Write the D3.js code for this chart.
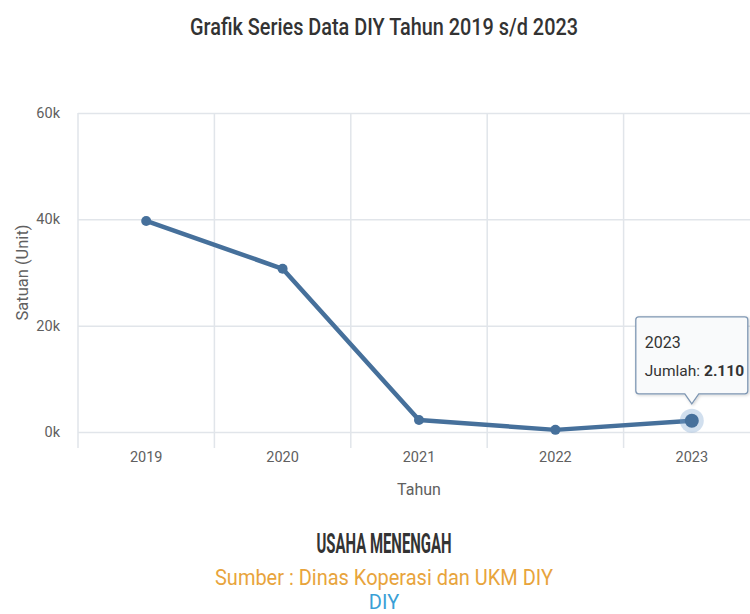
<!DOCTYPE html>
<html>
<head>
<meta charset="utf-8">
<script src="https://cdn.jsdelivr.net/npm/d3@7"></script>
<style>
  html, body { margin: 0; padding: 0; background: #fff; }
  svg { display: block; font-family: Roboto, "Liberation Sans", Arial, sans-serif; }
</style>
</head>
<body>
<svg id="chart" width="750" height="614"></svg>
<script>
// Jumlah usaha menengah di DIY per tahun
const years = ["2019", "2020", "2021", "2022", "2023"];
const jumlah = [39700, 30700, 2250, 400, 2110];
const yTicks = [0, 20000, 40000, 60000];
const yTickLabels = ["0k", "20k", "40k", "60k"];
const activeYear = "2023";

const svg = d3.select("#chart");
const margin = { left: 78, right: 760, top: 113, bottom: 432 };

const x = d3.scaleBand().domain(years).range([margin.left, margin.right]);
const y = d3.scaleLinear().domain([0, 60000]).range([margin.bottom, margin.top]);

const gridColor = "#e1e5ea";
const labelColor = "#606060";
const lineColor = "#46709b";

// Title
svg.append("text")
  .attr("x", 384).attr("y", 35)
  .attr("text-anchor", "middle")
  .attr("font-size", 23).attr("font-weight", 500)
  .attr("fill", "#333")
  .attr("textLength", 388).attr("lengthAdjust", "spacingAndGlyphs")
  .text("Grafik Series Data DIY Tahun 2019 s/d 2023");

// Horizontal grid lines
const yAxis = d3.axisLeft(y).tickValues(yTicks)
  .tickSize(-(margin.right - margin.left))
  .tickFormat((d, i) => yTickLabels[i]);
const gy = svg.append("g").attr("transform", `translate(${margin.left},0)`).call(yAxis);
gy.select(".domain").remove();
gy.selectAll(".tick line").attr("stroke", gridColor).attr("stroke-width", 1.5);
gy.selectAll(".tick text")
  .attr("x", -18).attr("fill", labelColor)
  .attr("font-size", 14.5).attr("font-family", "Roboto, sans-serif");

// Vertical category grid lines (band boundaries)
const bounds = years.map(d => x(d)).concat([x(years[years.length - 1]) + x.bandwidth()]);
svg.append("g").selectAll("line").data(bounds).join("line")
  .attr("x1", d => d).attr("x2", d => d)
  .attr("y1", margin.top).attr("y2", margin.bottom + 16)
  .attr("stroke", gridColor).attr("stroke-width", 1.5);

// X axis labels
const xAxis = d3.axisBottom(x).tickSize(0).tickPadding(20);
const gx = svg.append("g").attr("transform", `translate(0,${margin.bottom})`).call(xAxis);
gx.select(".domain").remove();
gx.selectAll(".tick text").attr("fill", labelColor).attr("font-size", 14.5)
  .attr("font-family", "Roboto, sans-serif");

// Axis titles
svg.append("text")
  .attr("x", (margin.left + margin.right) / 2).attr("y", 495)
  .attr("text-anchor", "middle").attr("font-size", 16).attr("fill", labelColor)
  .text("Tahun");
svg.append("text")
  .attr("transform", `translate(28,${(margin.top + margin.bottom) / 2}) rotate(-90)`)
  .attr("text-anchor", "middle").attr("font-size", 16.5).attr("fill", labelColor)
  .text("Satuan (Unit)");

// Series line
const data = years.map((yr, i) => ({ year: yr, value: jumlah[i] }));
const cx = d => x(d.year) + x.bandwidth() / 2;
const line = d3.line().x(cx).y(d => y(d.value));
svg.append("path").datum(data)
  .attr("d", line).attr("fill", "none")
  .attr("stroke", lineColor).attr("stroke-width", 4.5)
  .attr("stroke-linejoin", "round").attr("stroke-linecap", "round");

// Markers
const active = data.find(d => d.year === activeYear);
svg.append("circle")
  .attr("cx", cx(active)).attr("cy", y(active.value)).attr("r", 12)
  .attr("fill", "#7aa3cf").attr("opacity", 0.35);
svg.append("g").selectAll("circle").data(data).join("circle")
  .attr("cx", cx).attr("cy", d => y(d.value))
  .attr("r", d => d.year === activeYear ? 7 : 5)
  .attr("fill", lineColor);

// Tooltip for the highlighted point
const fmt = v => d3.format(",")(v).replace(/,/g, ".");
const tipX = cx(active), tipY = y(active.value) - 17;
const boxL = tipX - 56, boxR = tipX + 56, boxT = tipY - 87, boxB = tipY - 10;
const defs = svg.append("defs");
const f = defs.append("filter").attr("id", "tipShadow").attr("x", "-20%").attr("y", "-20%").attr("width", "150%").attr("height", "150%");
f.append("feDropShadow").attr("dx", 1).attr("dy", 1).attr("stdDeviation", 1.5).attr("flood-color", "#000").attr("flood-opacity", 0.18);
const tipPath = d3.path();
tipPath.moveTo(boxL + 3, boxT);
tipPath.lineTo(boxR - 3, boxT);
tipPath.quadraticCurveTo(boxR, boxT, boxR, boxT + 3);
tipPath.lineTo(boxR, boxB - 3);
tipPath.quadraticCurveTo(boxR, boxB, boxR - 3, boxB);
tipPath.lineTo(tipX + 7, boxB);
tipPath.lineTo(tipX, tipY);
tipPath.lineTo(tipX - 7, boxB);
tipPath.lineTo(boxL + 3, boxB);
tipPath.quadraticCurveTo(boxL, boxB, boxL, boxB - 3);
tipPath.lineTo(boxL, boxT + 3);
tipPath.quadraticCurveTo(boxL, boxT, boxL + 3, boxT);
tipPath.closePath();
svg.append("path").attr("d", tipPath.toString())
  .attr("fill", "#f9fafb").attr("stroke", "#7f97b3").attr("stroke-width", 1.3)
  .attr("filter", "url(#tipShadow)");
svg.append("text").attr("x", boxL + 9).attr("y", boxT + 31)
  .attr("font-size", 16).attr("fill", "#333").text(active.year);
const lbl = svg.append("text").attr("x", boxL + 9).attr("y", boxT + 59)
  .attr("font-size", 15.5).attr("fill", "#333")
  .attr("xml:space", "preserve")
  .text("Jumlah:");
const lblW = lbl.node().getComputedTextLength();
svg.append("text").attr("x", boxL + 9 + lblW + 4).attr("y", boxT + 59)
  .attr("font-size", 15.5).attr("font-weight", "bold").attr("fill", "#333")
  .text(fmt(active.value));

// Footer captions
svg.append("text")
  .attr("x", 384).attr("y", 553).attr("text-anchor", "middle")
  .attr("font-size", 27).attr("font-weight", "bold").attr("fill", "#333")
  .attr("textLength", 135).attr("lengthAdjust", "spacingAndGlyphs")
  .text("USAHA MENENGAH");
svg.append("text")
  .attr("x", 384).attr("y", 585).attr("text-anchor", "middle")
  .attr("font-size", 22).attr("fill", "#e8a43c")
  .attr("textLength", 338).attr("lengthAdjust", "spacingAndGlyphs")
  .text("Sumber : Dinas Koperasi dan UKM DIY");
svg.append("text")
  .attr("x", 384).attr("y", 609).attr("text-anchor", "middle")
  .attr("font-size", 20).attr("fill", "#3a9fd6")
  .text("DIY");
</script>
</body>
</html>
